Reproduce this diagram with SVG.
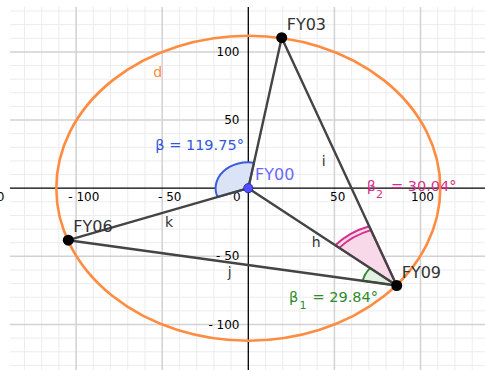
<svg xmlns="http://www.w3.org/2000/svg" width="485" height="370" viewBox="0 0 485 370">
<style>
text{font-family:"DejaVu Sans","Liberation Sans",sans-serif}
.minor{stroke:#ececec;stroke-width:1;fill:none}
.major{stroke:#d2d2d2;stroke-width:1.5;fill:none}
.axis{stroke:#000;stroke-width:1.3;fill:none}
.tick{font-size:12px;fill:#000}
.seg{stroke:#444;stroke-width:2.4;fill:none;stroke-linecap:round}
.pt{fill:#000}
.plabel{font-size:16px;fill:#333}
.slabel{font-size:14px;fill:#333}
</style>
<rect width="485" height="370" fill="#fff"/>
<g id="grid">
<path class="minor" d="M24.44 7V370M41.66 7V370M58.88 7V370M93.32 7V370M110.54 7V370M127.76 7V370M144.98 7V370M179.42 7V370M196.64 7V370M213.86 7V370M231.08 7V370M265.52 7V370M282.74 7V370M299.96 7V370M317.18 7V370M351.62 7V370M368.84 7V370M386.06 7V370M403.28 7V370M437.72 7V370M454.94 7V370M472.16 7V370"/>
<path class="minor" d="M10 11.01H485M10 24.64H485M10 38.27H485M10 65.53H485M10 79.16H485M10 92.79H485M10 106.42H485M10 133.68H485M10 147.31H485M10 160.94H485M10 174.57H485M10 201.83H485M10 215.46H485M10 229.09H485M10 242.72H485M10 269.98H485M10 283.61H485M10 297.24H485M10 310.87H485M10 338.13H485M10 351.76H485M10 365.39H485"/>
<path class="major" d="M76.1 7V370M162.2 7V370M334.4 7V370M420.5 7V370M10 51.9H485M10 120.05H485M10 256.35H485M10 324.5H485"/>
</g>
<g id="axes">
<path class="axis" d="M10 188.2H485M248.3 7V370"/>
<text class="tick" x="4.5" y="201" text-anchor="end">- 150</text>
<text class="tick" x="68.3" y="201">- 100</text>
<text class="tick" x="158" y="201">- 50</text>
<text class="tick" x="233" y="201">0</text>
<text class="tick" x="330" y="201">50</text>
<text class="tick" x="411" y="201">100</text>
<text class="tick" x="239.5" y="56" text-anchor="end">100</text>
<text class="tick" x="239.5" y="124.3" text-anchor="end">50</text>
<text class="tick" x="239.5" y="260" text-anchor="end">- 50</text>
<text class="tick" x="239.5" y="328.5" text-anchor="end">- 100</text>
</g>
<g id="circle-d">
<ellipse cx="248.3" cy="188.2" rx="192" ry="152.5" fill="none" stroke="#ff8c40" stroke-width="2.6"/>
<text x="153.3" y="76.7" style="font-size:14px;fill:#ff8c40">d</text>
</g>
<g id="angles">
<path id="angle-beta" d="M248.3 188.2L253.96 162.7A32.72 25.9 0 0 0 217.57 197.08Z" fill="#dbe3f7" stroke="#3b5ddb" stroke-width="2" stroke-linejoin="round"/>
<g id="angle-beta2">
<path d="M396.7 285.5L369.21 226.26A79.73 63.11 0 0 0 335.3 245.24Z" fill="#f7d9e9" stroke="#d6308a" stroke-width="2" stroke-linejoin="round"/>
<path d="M370.99 230.1A74.56 59.02 0 0 0 339.28 247.85" fill="none" stroke="#d6308a" stroke-width="2"/>
</g>
<path id="angle-beta1" d="M396.7 285.5L370.18 268.11A34.44 27.26 0 0 0 362.77 280.82Z" fill="#e3f1e3" stroke="#2e8b2e" stroke-width="2" stroke-linejoin="round"/>
</g>
<g id="connectors">
<line class="seg" x1="248.3" y1="188.2" x2="281.7" y2="37.7"/>
<line id="k" class="seg" x1="248.3" y1="188.2" x2="68.3" y2="240.2"/>
<line id="h" class="seg" x1="248.3" y1="188.2" x2="396.7" y2="285.5"/>
<line id="i" class="seg" x1="281.7" y1="37.7" x2="396.7" y2="285.5"/>
<line id="j" class="seg" x1="68.3" y1="240.2" x2="396.7" y2="285.5"/>
<text class="slabel" x="321.7" y="166">i</text>
<text class="slabel" x="165" y="226.7">k</text>
<text class="slabel" x="311.7" y="246.7">h</text>
<text class="slabel" x="227.7" y="277">j</text>
</g>
<g id="FY00">
<circle cx="248.3" cy="188.2" r="4.6" fill="#5050ff" stroke="#2a2ab0" stroke-width="1"/>
<text x="255" y="180" style="font-size:16px;fill:#6a6aff">FY00</text>
</g>
<g id="FY03">
<circle class="pt" cx="281.7" cy="37.7" r="5.5"/>
<text class="plabel" x="286.7" y="30">FY03</text>
</g>
<g id="FY06">
<circle class="pt" cx="68.3" cy="240.2" r="5.5"/>
<text class="plabel" x="73.3" y="232">FY06</text>
</g>
<g id="FY09">
<circle class="pt" cx="396.7" cy="285.5" r="5.5"/>
<text class="plabel" x="401.7" y="277.5">FY09</text>
</g>
<g id="angle-labels">
<text x="155.3" y="149.5" style="font-size:14.5px;fill:#3355dd">β = 119.75°</text>
<text style="font-size:14.5px;fill:#d6308a"><tspan x="366.7" y="190.5">β</tspan><tspan x="376" y="197.5" style="font-size:11px">2</tspan><tspan x="391" y="190.5">= 30.04°</tspan></text>
<text style="font-size:14.5px;fill:#2e8b2e"><tspan x="289" y="301.7">β</tspan><tspan x="299.5" y="308.5" style="font-size:11px">1</tspan><tspan x="312.5" y="301.7">= 29.84°</tspan></text>
</g>
</svg>
